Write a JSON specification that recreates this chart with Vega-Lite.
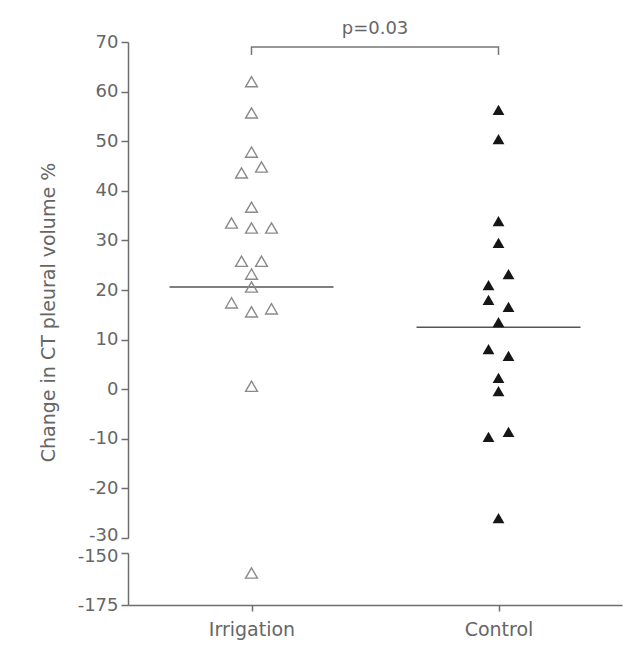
{
  "$schema": "https://vega.github.io/schema/vega-lite/v6.json",
  "background": "white",
  "padding": {"left": 39, "top": 20, "right": 19, "bottom": 5},
  "spacing": 15,
  "bounds": "flush",
  "config": {
    "view": {"stroke": null},
    "font": "DejaVu Sans",
    "axis": {
      "grid": false,
      "domainColor": "#6e6e6e",
      "tickColor": "#6e6e6e",
      "domainWidth": 1.5,
      "tickWidth": 1.5,
      "labelColor": "#666666",
      "titleColor": "#666666",
      "labelFont": "DejaVu Sans",
      "titleFont": "DejaVu Sans",
      "labelFontSize": 18,
      "titleFontWeight": "normal"
    }
  },
  "datasets": {
    "points": [
      {"group": "Irrigation", "change": 62.0, "slot": 0},
      {"group": "Irrigation", "change": 55.7, "slot": 0},
      {"group": "Irrigation", "change": 47.8, "slot": 0},
      {"group": "Irrigation", "change": 43.6, "slot": -1},
      {"group": "Irrigation", "change": 44.8, "slot": 1},
      {"group": "Irrigation", "change": 36.7, "slot": 0},
      {"group": "Irrigation", "change": 33.5, "slot": -2},
      {"group": "Irrigation", "change": 32.5, "slot": 0},
      {"group": "Irrigation", "change": 32.5, "slot": 2},
      {"group": "Irrigation", "change": 25.8, "slot": -1},
      {"group": "Irrigation", "change": 25.8, "slot": 1},
      {"group": "Irrigation", "change": 23.2, "slot": 0},
      {"group": "Irrigation", "change": 20.6, "slot": 0},
      {"group": "Irrigation", "change": 17.4, "slot": -2},
      {"group": "Irrigation", "change": 15.6, "slot": 0},
      {"group": "Irrigation", "change": 16.2, "slot": 2},
      {"group": "Irrigation", "change": 0.6, "slot": 0},
      {"group": "Irrigation", "change": -159.6, "slot": 0},
      {"group": "Control", "change": 56.3, "slot": 0},
      {"group": "Control", "change": 50.4, "slot": 0},
      {"group": "Control", "change": 33.9, "slot": 0},
      {"group": "Control", "change": 29.5, "slot": 0},
      {"group": "Control", "change": 23.2, "slot": 1},
      {"group": "Control", "change": 21.0, "slot": -1},
      {"group": "Control", "change": 18.0, "slot": -1},
      {"group": "Control", "change": 16.6, "slot": 1},
      {"group": "Control", "change": 13.5, "slot": 0},
      {"group": "Control", "change": 8.1, "slot": -1},
      {"group": "Control", "change": 6.7, "slot": 1},
      {"group": "Control", "change": 2.3, "slot": 0},
      {"group": "Control", "change": -0.4, "slot": 0},
      {"group": "Control", "change": -8.6, "slot": 1},
      {"group": "Control", "change": -9.6, "slot": -1},
      {"group": "Control", "change": -26.0, "slot": 0}
    ],
    "means": [
      {"group": "Irrigation", "change": 20.6},
      {"group": "Control", "change": 12.5}
    ],
    "bracket": [
      {"group": "Irrigation", "change": 67.4, "step": 1},
      {"group": "Irrigation", "change": 69.0, "step": 2},
      {"group": "Control", "change": 69.0, "step": 3},
      {"group": "Control", "change": 67.4, "step": 4}
    ]
  },
  "vconcat": [
    {
      "width": 494,
      "height": 496,
      "title": {
        "text": "p=0.03",
        "font": "DejaVu Sans",
        "fontSize": 18,
        "fontWeight": "normal",
        "color": "#666666",
        "anchor": "middle",
        "offset": -5
      },
      "encoding": {
        "x": {
          "field": "group",
          "type": "nominal",
          "sort": null,
          "scale": {"type": "point", "domain": ["Irrigation", "Control"], "padding": 0.5},
          "axis": null
        },
        "y": {
          "field": "change",
          "type": "quantitative",
          "scale": {"domain": [-30, 70], "nice": false, "zero": false},
          "axis": {
            "values": [70, 60, 50, 40, 30, 20, 10, 0, -10, -20, -30],
            "labelExpr": "'' + datum.value",
            "labelOffset": {"condition": {"test": "datum.value === -30", "value": -3}, "value": 0},
            "title": "Change in CT pleural volume %",
            "titleFontSize": 19,
            "titleX": -70,
            "titleY": 270,
            "tickSize": 7,
            "labelPadding": 3,
            "encoding": {
              "ticks": {"update": {"x": [{"test": "datum.value === -30", "value": 8}, {"value": 0}]}}
            }
          }
        }
      },
      "layer": [
        {
          "data": {"name": "bracket"},
          "mark": {"type": "line", "color": "#777777", "strokeWidth": 1.5},
          "encoding": {"order": {"field": "step", "type": "quantitative"}}
        },
        {
          "data": {"name": "means"},
          "mark": {"type": "tick", "size": 164, "thickness": 1.5, "color": "#555555", "opacity": 1}
        },
        {
          "data": {"name": "points"},
          "transform": [{"filter": "datum.group === 'Irrigation' && datum.change >= -30"}],
          "mark": {"type": "point", "shape": "triangle-up", "size": 140, "filled": false, "color": "#8a8a8a", "strokeWidth": 1.4, "opacity": 1},
          "encoding": {
            "xOffset": {"field": "slot", "type": "quantitative", "scale": {"domain": [-2, 2], "range": [-20, 20]}}
          }
        },
        {
          "data": {"name": "points"},
          "transform": [{"filter": "datum.group === 'Control' && datum.change >= -30"}],
          "mark": {"type": "point", "shape": "triangle-up", "size": 140, "filled": true, "color": "#161616", "opacity": 1},
          "encoding": {
            "xOffset": {"field": "slot", "type": "quantitative", "scale": {"domain": [-2, 2], "range": [-20, 20]}}
          }
        }
      ]
    },
    {
      "width": 494,
      "height": 52,
      "data": {"name": "points"},
      "transform": [{"filter": "datum.change < -30"}],
      "mark": {"type": "point", "shape": "triangle-up", "size": 140, "filled": false, "color": "#8a8a8a", "strokeWidth": 1.4, "opacity": 1},
      "encoding": {
        "x": {
          "field": "group",
          "type": "nominal",
          "sort": null,
          "scale": {"type": "point", "domain": ["Irrigation", "Control"], "padding": 0.5},
          "axis": {"title": null, "labelAngle": 0, "labelFontSize": 19, "tickSize": 6, "labelPadding": 9}
        },
        "xOffset": {"field": "slot", "type": "quantitative", "scale": {"domain": [-2, 2], "range": [-20, 20]}},
        "y": {
          "field": "change",
          "type": "quantitative",
          "scale": {"domain": [-175, -150], "nice": false, "zero": false},
          "axis": {
            "values": [-150, -175],
            "labelExpr": "'' + datum.value",
            "labelOffset": {"condition": {"test": "datum.value === -150", "value": 3}, "value": 0},
            "title": null,
            "tickSize": 7,
            "labelPadding": 3,
            "encoding": {
              "ticks": {"update": {"x": [{"test": "datum.value === -150", "value": 8}, {"value": 0}]}}
            }
          }
        }
      }
    }
  ]
}
